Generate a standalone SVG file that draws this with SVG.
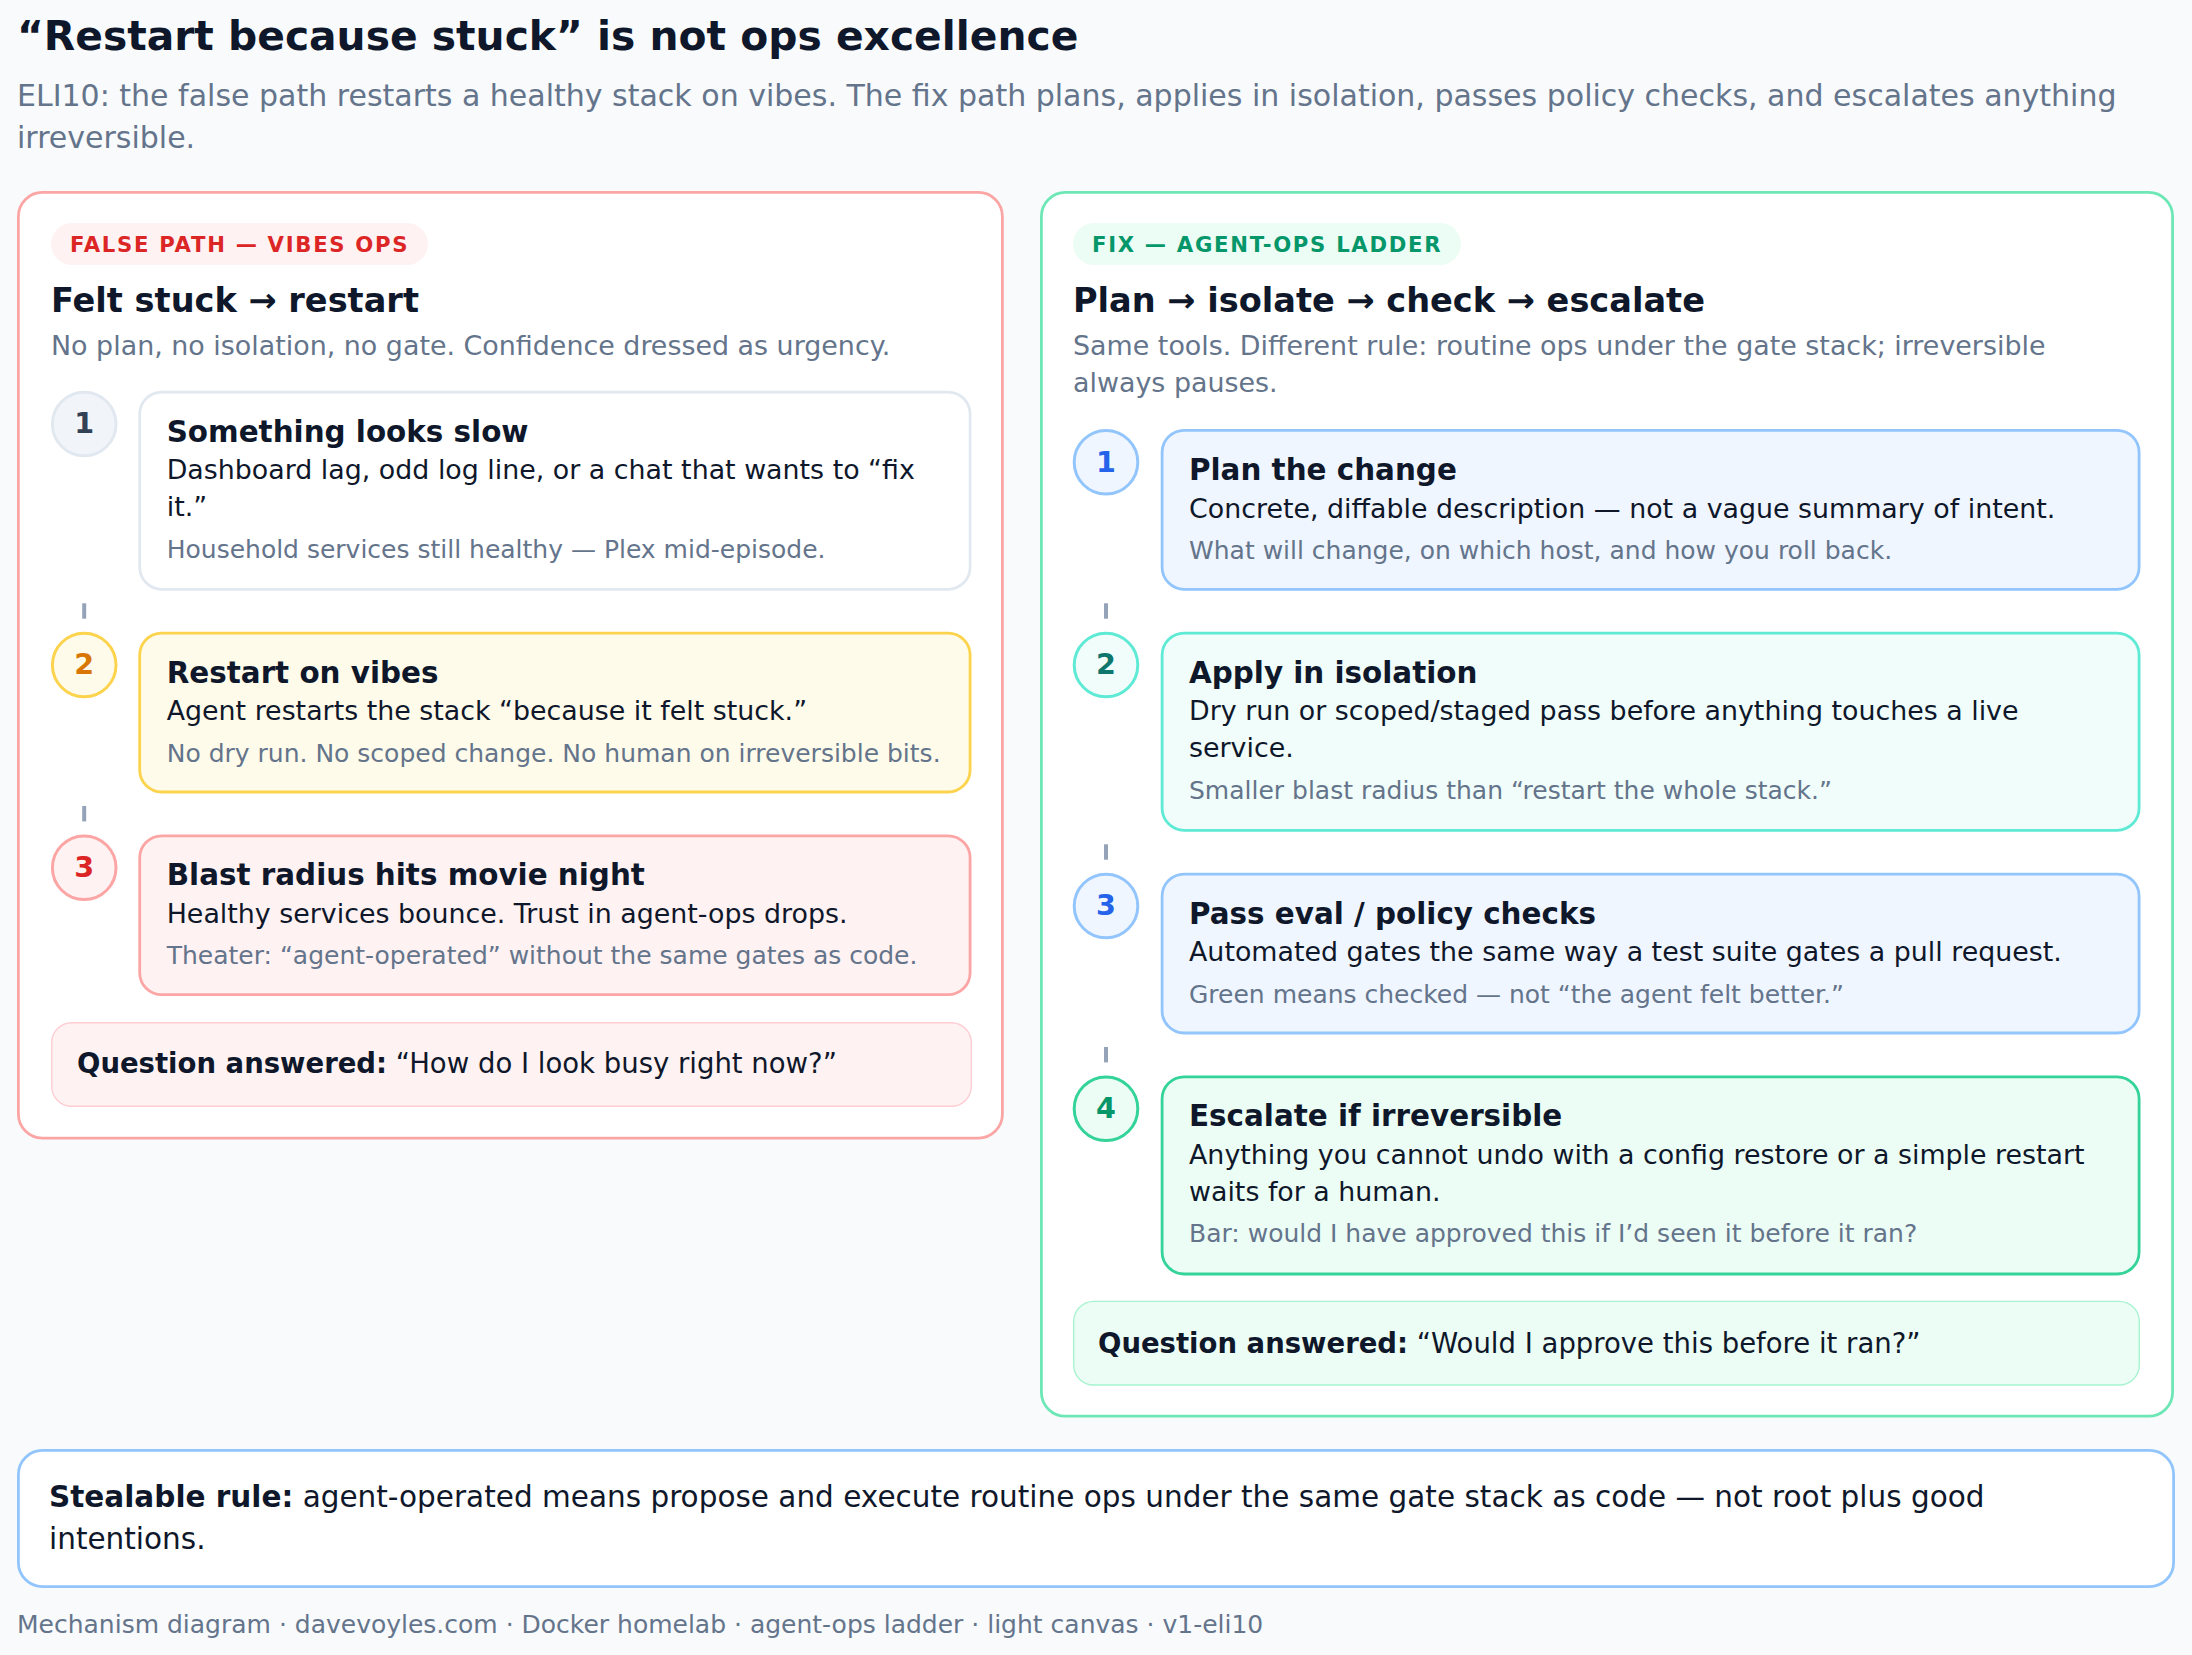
<svg xmlns="http://www.w3.org/2000/svg" width="2192" height="1655" viewBox="0 0 2192 1655">
<style>
text{font-family:"DejaVu Sans","Noto Sans",sans-serif;}
.title{font-size:40.8px;font-weight:bold;fill:#0f172a;}
.sub{font-size:30px;fill:#64748b;}
.badge{font-size:21.2px;font-weight:bold;letter-spacing:1.7px;}
.h{font-size:33.6px;font-weight:bold;fill:#0f172a;}
.desc{font-size:26.9px;fill:#64748b;}
.ct{font-size:29.4px;font-weight:bold;fill:#0f172a;}
.cb{font-size:26.85px;fill:#0f172a;}
.cn{font-size:25px;fill:#64748b;}
.num{font-size:28.6px;font-weight:bold;text-anchor:middle;}
.q{font-size:27.5px;fill:#0f172a;}
.b{font-weight:bold;}
.rule{font-size:29.5px;fill:#0f172a;}
.foot{font-size:25px;fill:#64748b;}
.panel{fill:#ffffff;stroke-width:2.8;}
.card{stroke-width:2.8;}
.circ{stroke-width:3;}
.tick{stroke:#94a3b8;stroke-width:4;}
.gray{fill:#ffffff;stroke:#e2e8f0;}
.gray-c{fill:#f1f5f9;stroke:#e2e8f0;}
.yel{fill:#fefbea;stroke:#fcd34d;}
.red{fill:#fef2f2;stroke:#fca5a5;}
.blue{fill:#eff6ff;stroke:#93c5fd;}
.teal{fill:#f0fdfa;stroke:#5eead4;}
.green{fill:#ecfdf5;stroke:#34d399;}
</style>
<rect width="2192" height="1655" fill="#f8fafc"/>

<g id="header">
<text class="title" x="17" y="50">“Restart because stuck” is not ops excellence</text>
<text class="sub" x="17" y="106">ELI10: the false path restarts a healthy stack on vibes. The fix path plans, applies in isolation, passes policy checks, and escalates anything</text>
<text class="sub" x="17" y="148">irreversible.</text>
</g>

<g id="panel-false">
<rect class="panel" x="18.4" y="192.4" width="984" height="945.7" rx="24" stroke="#fca5a5"/>
<rect x="51" y="223" width="377" height="42" rx="21" fill="#fef2f2"/>
<text class="badge" x="70" y="251.5" fill="#dc2626">FALSE PATH — VIBES OPS</text>
<text class="h" x="51" y="312">Felt stuck → restart</text>
<text class="desc" x="51" y="355">No plan, no isolation, no gate. Confidence dressed as urgency.</text>
</g>

<g id="false-step1">
<circle class="circ gray-c" cx="84.2" cy="424" r="31.8"/>
<text class="num" x="84.2" y="433.3" fill="#334155">1</text>
<rect class="card gray" x="139.7" y="392.1" width="830.4" height="197.2" rx="22"/>
<text class="ct" x="166.7" y="441.5">Something looks slow</text>
<text class="cb" x="166.7" y="479.2">Dashboard lag, odd log line, or a chat that wants to “fix</text>
<text class="cb" x="166.7" y="515.9">it.”</text>
<text class="cn" x="166.7" y="557.7">Household services still healthy — Plex mid-episode.</text>
</g>

<g id="false-step2">
<circle class="circ yel" cx="84.2" cy="665" r="31.8"/>
<text class="num" x="84.2" y="674.3" fill="#d97706">2</text>
<rect class="card yel" x="139.7" y="633.1" width="830.4" height="158.9" rx="22"/>
<text class="ct" x="166.7" y="682.5">Restart on vibes</text>
<text class="cb" x="166.7" y="720.2">Agent restarts the stack “because it felt stuck.”</text>
<text class="cn" x="166.7" y="761.5">No dry run. No scoped change. No human on irreversible bits.</text>
</g>

<g id="false-step3">
<circle class="circ red" cx="84.2" cy="867.7" r="31.8"/>
<text class="num" x="84.2" y="877" fill="#dc2626">3</text>
<rect class="card red" x="139.7" y="835.8" width="830.4" height="158.9" rx="22"/>
<text class="ct" x="166.7" y="885.2">Blast radius hits movie night</text>
<text class="cb" x="166.7" y="922.9">Healthy services bounce. Trust in agent-ops drops.</text>
<text class="cn" x="166.7" y="964.2">Theater: “agent-operated” without the same gates as code.</text>
</g>

<g id="false-question">
<rect x="51.7" y="1022.7" width="919.6" height="83.6" rx="20" fill="#fef2f2" stroke="#fecdd3" stroke-width="1.4"/>
<text class="q" x="77" y="1073"><tspan class="b">Question answered:</tspan> “How do I look busy right now?”</text>
</g>

<g id="panel-fix">
<rect class="panel" x="1041.4" y="192.4" width="1131.2" height="1223.8" rx="24" stroke="#6ee7b7"/>
<rect x="1073" y="223" width="388" height="42" rx="21" fill="#ecfdf5"/>
<text class="badge" x="1092" y="251.5" fill="#059669">FIX — AGENT-OPS LADDER</text>
<text class="h" x="1073" y="312">Plan → isolate → check → escalate</text>
<text class="desc" x="1073" y="355">Same tools. Different rule: routine ops under the gate stack; irreversible</text>
<text class="desc" x="1073" y="392">always pauses.</text>
</g>

<g id="fix-step1">
<circle class="circ blue" cx="1106" cy="462.3" r="31.8"/>
<text class="num" x="1106" y="471.6" fill="#2563eb">1</text>
<rect class="card blue" x="1162.1" y="430.4" width="977" height="158.9" rx="22"/>
<text class="ct" x="1189" y="479.8">Plan the change</text>
<text class="cb" x="1189" y="517.5">Concrete, diffable description — not a vague summary of intent.</text>
<text class="cn" x="1189" y="558.8">What will change, on which host, and how you roll back.</text>
</g>

<g id="fix-step2">
<circle class="circ teal" cx="1106" cy="665" r="31.8"/>
<text class="num" x="1106" y="674.3" fill="#0f766e">2</text>
<rect class="card teal" x="1162.1" y="633.1" width="977" height="197.2" rx="22"/>
<text class="ct" x="1189" y="682.5">Apply in isolation</text>
<text class="cb" x="1189" y="720.2">Dry run or scoped/staged pass before anything touches a live</text>
<text class="cb" x="1189" y="756.9">service.</text>
<text class="cn" x="1189" y="798.7">Smaller blast radius than “restart the whole stack.”</text>
</g>

<g id="fix-step3">
<circle class="circ blue" cx="1106" cy="906" r="31.8"/>
<text class="num" x="1106" y="915.3" fill="#2563eb">3</text>
<rect class="card blue" x="1162.1" y="874.1" width="977" height="158.9" rx="22"/>
<text class="ct" x="1189" y="923.5">Pass eval / policy checks</text>
<text class="cb" x="1189" y="961.2">Automated gates the same way a test suite gates a pull request.</text>
<text class="cn" x="1189" y="1002.5">Green means checked — not “the agent felt better.”</text>
</g>

<g id="fix-step4">
<circle class="circ green" cx="1106" cy="1108.7" r="31.8"/>
<text class="num" x="1106" y="1118" fill="#059669">4</text>
<rect class="card green" x="1162.1" y="1076.8" width="977" height="197.2" rx="22"/>
<text class="ct" x="1189" y="1126.2">Escalate if irreversible</text>
<text class="cb" x="1189" y="1163.9">Anything you cannot undo with a config restore or a simple restart</text>
<text class="cb" x="1189" y="1200.6">waits for a human.</text>
<text class="cn" x="1189" y="1242.4">Bar: would I have approved this if I’d seen it before it ran?</text>
</g>

<g id="fix-question">
<rect x="1073.7" y="1301.4" width="1065.6" height="83.6" rx="20" fill="#ecfdf5" stroke="#a7f3d0" stroke-width="1.4"/>
<text class="q" x="1098" y="1352.5"><tspan class="b">Question answered:</tspan> “Would I approve this before it ran?”</text>
</g>

<g id="connectors">
<line class="tick" x1="84.2" y1="603.3" x2="84.2" y2="618.7"/>
<line class="tick" x1="84.2" y1="806" x2="84.2" y2="821.4"/>
<line class="tick" x1="1106" y1="603.3" x2="1106" y2="618.7"/>
<line class="tick" x1="1106" y1="844.3" x2="1106" y2="859.7"/>
<line class="tick" x1="1106" y1="1047" x2="1106" y2="1062.4"/>
</g>

<g id="rule">
<rect x="18.4" y="1450.4" width="2155.2" height="136.2" rx="24" fill="#ffffff" stroke="#93c5fd" stroke-width="2.8"/>
<text class="rule" x="49" y="1507"><tspan class="b">Stealable rule:</tspan> agent-operated means propose and execute routine ops under the same gate stack as code — not root plus good</text>
<text class="rule" x="49" y="1549">intentions.</text>
</g>

<g id="footer">
<text class="foot" x="17" y="1633">Mechanism diagram · davevoyles.com · Docker homelab · agent-ops ladder · light canvas · v1-eli10</text>
</g>
</svg>
